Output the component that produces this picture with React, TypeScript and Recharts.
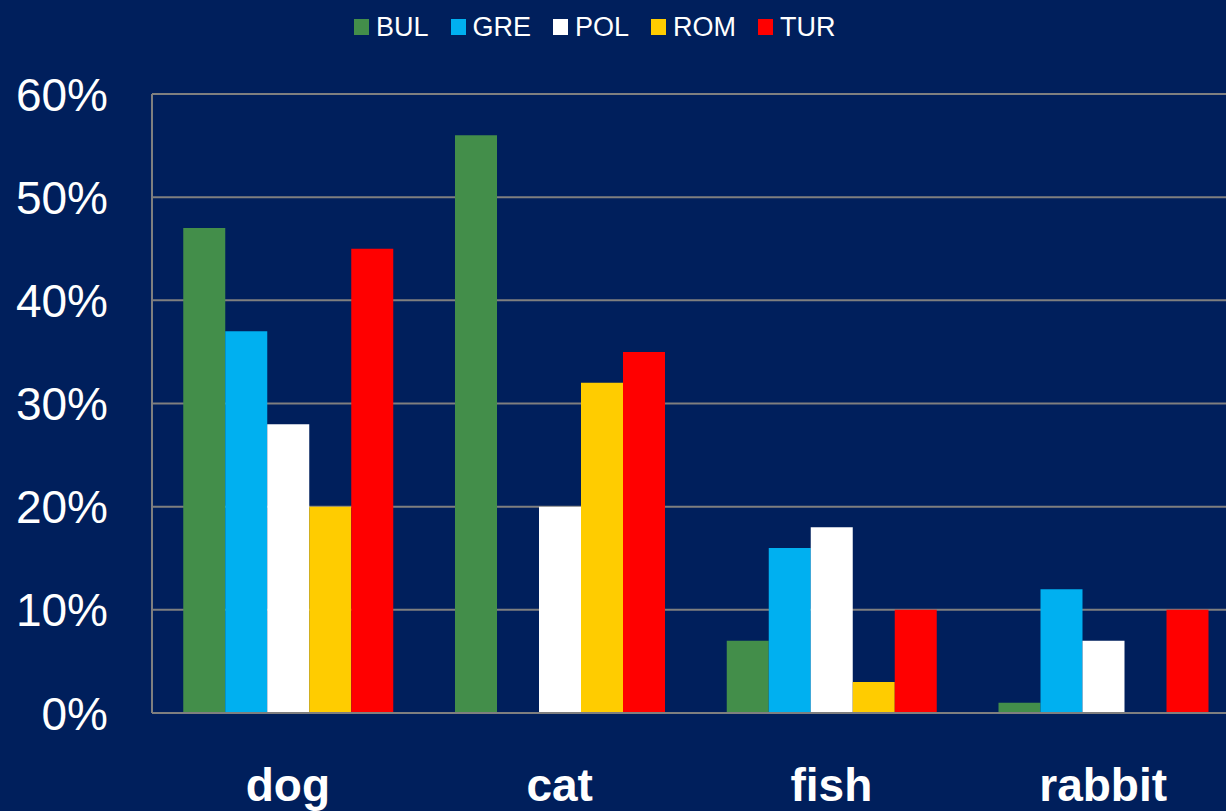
import React from "react";
import { BarChart, Bar, XAxis, YAxis, CartesianGrid } from "recharts";

const categories = ["dog", "cat", "fish", "rabbit"];
const seriesNames = ["BUL", "GRE", "POL", "ROM", "TUR"];
const BUL = [47, 56, 7, 1];
const GRE = [37, null, 16, 12];
const POL = [28, 20, 18, 7];
const ROM = [20, 32, 3, null];
const TUR = [45, 35, 10, 10];
const yTicks = [0, 10, 20, 30, 40, 50, 60];

const colors: Record<string, string> = {
  BUL: "#438E4A",
  GRE: "#00B0F0",
  POL: "#FFFFFF",
  ROM: "#FFCC00",
  TUR: "#FF0000",
};

const seriesValues: Record<string, (number | null)[]> = { BUL, GRE, POL, ROM, TUR };

const data = categories.map((c, i) => {
  const row: Record<string, any> = { name: c };
  seriesNames.forEach((s) => {
    row[s] = seriesValues[s][i];
  });
  return row;
});

const FONT = "'Liberation Sans', Arial, sans-serif";
const BG = "#001F5C";
const GRID = "#7F7F7F";

const YTick = (props: any) => {
  const { y, payload } = props;
  return (
    <text
      x={108}
      y={y}
      dy="0.36em"
      textAnchor="end"
      fill="#FFFFFF"
      fontSize={46}
      fontFamily={FONT}
    >
      {payload.value}%
    </text>
  );
};

const XTick = (props: any) => {
  const { x, payload } = props;
  return (
    <text
      x={x}
      y={801}
      textAnchor="middle"
      fill="#FFFFFF"
      fontSize={46}
      fontWeight="bold"
      fontFamily={FONT}
    >
      {payload.value}
    </text>
  );
};

const LegendBlock = () => (
  <div
    style={{
      position: "absolute",
      top: 7,
      left: 354,
      height: 40,
      display: "flex",
      alignItems: "center",
      fontFamily: FONT,
      fontSize: 27,
      color: "#FFFFFF",
      zIndex: 2,
      whiteSpace: "nowrap",
    }}
  >
    {seriesNames.map((s) => (
      <div key={s} style={{ display: "flex", alignItems: "center", marginRight: 22 }}>
        <span
          style={{
            display: "inline-block",
            width: 15,
            height: 16,
            background: colors[s],
            marginRight: 7,
          }}
        />
        <span>{s}</span>
      </div>
    ))}
  </div>
);

export default function App() {
  return (
    <div
      style={{
        position: "absolute",
        left: 0,
        top: 0,
        width: 1226,
        height: 811,
        background: BG,
        overflow: "hidden",
      }}
    >
      <LegendBlock />
      <BarChart
        width={1239}
        height={811}
        data={data}
        margin={{ top: 94, right: 0, left: 0, bottom: 0 }}
        barCategoryGap="11.5%"
        barGap={0}
      >
        <CartesianGrid vertical={false} stroke={GRID} strokeWidth={2} />
        <XAxis
          dataKey="name"
          height={98}
          axisLine={{ stroke: GRID, strokeWidth: 2 }}
          tickLine={false}
          tick={<XTick />}
          interval={0}
        />
        <YAxis
          width={152}
          domain={[0, 60]}
          ticks={yTicks}
          axisLine={{ stroke: GRID, strokeWidth: 2 }}
          tickLine={false}
          tick={<YTick />}
          interval={0}
        />
        {seriesNames.map((s) => (
          <Bar key={s} dataKey={s} fill={colors[s]} isAnimationActive={false} />
        ))}
      </BarChart>
    </div>
  );
}
